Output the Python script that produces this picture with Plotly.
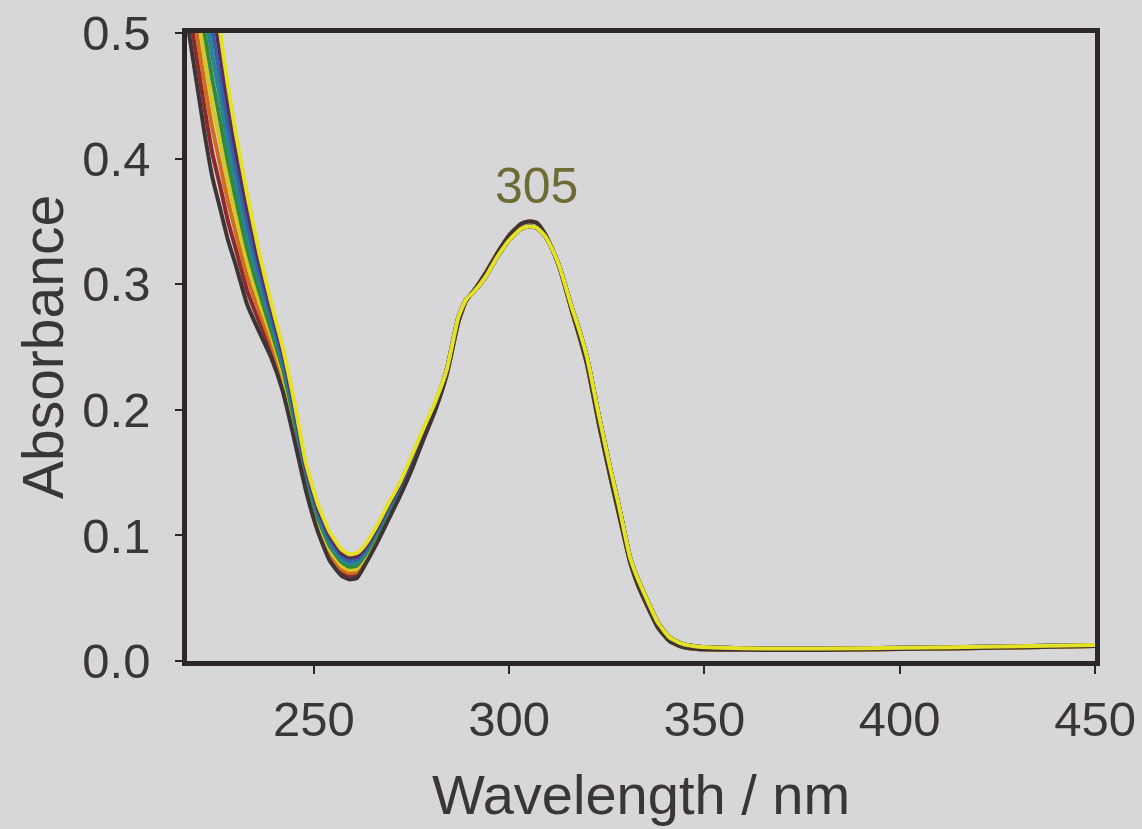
import plotly.graph_objects as go

# Short-wavelength region (curves differ here)
wl_short = [218, 220, 222, 224, 226, 228, 230, 233, 236, 239, 242, 245, 248,
            251, 254, 257, 259, 261, 263, 266, 269, 272, 275, 278, 281]

c1 = [.500, .460, .420, .385, .360, .335, .315, .283, .262, .242, .215, .176, .135,
      .103, .080, .068, .065, .066, .076, .093, .112, .131, .152, .176, .199]
c2 = [.520, .480, .440, .404, .378, .350, .328, .294, .270, .248, .219, .180, .138,
      .106, .083, .071, .0675, .0685, .078, .095, .1135, .132, .153, .177, .200]
c3 = [.540, .500, .460, .424, .395, .366, .341, .305, .278, .253, .224, .184, .141,
      .109, .086, .073, .070, .071, .080, .0965, .115, .134, .155, .178, .201]
c4 = [.560, .520, .480, .443, .413, .381, .354, .316, .286, .259, .228, .187, .143,
      .111, .089, .076, .0725, .0735, .082, .098, .117, .135, .156, .179, .202]
c5 = [.580, .540, .500, .463, .430, .397, .368, .327, .294, .264, .233, .191, .146,
      .114, .092, .079, .075, .076, .084, .100, .1185, .1365, .1575, .1805, .2025]
c6 = [.600, .560, .520, .482, .448, .412, .381, .337, .301, .270, .237, .195, .149,
      .117, .094, .081, .0775, .0785, .086, .102, .120, .138, .159, .182, .203]
c7 = [.620, .580, .540, .501, .465, .427, .394, .348, .309, .275, .241, .199, .152,
      .120, .097, .084, .080, .081, .088, .1035, .122, .139, .160, .183, .204]
c8 = [.640, .600, .560, .521, .483, .443, .407, .359, .317, .281, .246, .202, .154,
      .122, .100, .086, .0825, .0835, .090, .105, .1235, .1405, .1615, .184, .205]
c9 = [.660, .620, .580, .540, .500, .458, .420, .370, .325, .286, .250, .206, .157,
      .125, .103, .089, .085, .086, .092, .107, .125, .142, .163, .185, .206]

# Long-wavelength region (curves nearly coincide)
wl_tail = [284, 287, 289, 291, 294, 297, 300, 303, 305, 307, 309, 311, 313, 316,
           318, 320, 323, 326, 328, 331, 333, 335, 338, 341, 344, 348, 355, 365,
           380, 400, 425, 450]
tail_low = [.228, .270, .287, .295, .309, .325, .339, .348, .350, .349, .341, .328,
            .312, .279, .258, .235, .188, .145, .118, .078, .060, .046, .027, .016,
            .0115, .0095, .009, .0088, .0088, .0095, .0105, .012]
tail_high = [.232, .274, .288, .294, .306, .322, .335, .344, .346, .345, .339, .328,
             .313, .282, .263, .241, .195, .152, .125, .082, .065, .051, .031, .019,
             .014, .0115, .0105, .010, .010, .0105, .0115, .0128]

curve_values = [c1, c2, c3, c4, c5, c6, c7, c8, c9]
curve_colors = ["#3e3436", "#8a2a2c", "#d26a22", "#d6c628", "#2f8a3c",
                "#2a8494", "#3462a6", "#5b2a5a", "#e4e226"]
curve_tails = [tail_low, tail_low, tail_low, tail_low, tail_high, tail_high,
               tail_high, tail_high, tail_high]

x_ticks = [250, 300, 350, 400, 450]
y_ticks = [0.0, 0.1, 0.2, 0.3, 0.4, 0.5]
peak_label = "305"
peak_pos = (307, 0.378)

bg = "#d7d7d9"
axis_col = "#2e272a"
text_col = "#3a3638"
font_family = "Liberation Sans, Arial, sans-serif"

fig = go.Figure()
draw_order = [1, 2, 3, 4, 5, 6, 7, 0, 8]
for i in draw_order:
    fig.add_trace(go.Scatter(
        x=wl_short + wl_tail,
        y=curve_values[i] + curve_tails[i],
        mode="lines",
        line=dict(color=curve_colors[i], width=4, shape="spline", smoothing=0.5),
        showlegend=False,
        hoverinfo="skip",
    ))

fig.add_annotation(x=peak_pos[0], y=peak_pos[1], text=peak_label, showarrow=False,
                   font=dict(size=50, color="#6f6b34", family=font_family))

fig.update_layout(
    width=1142, height=829,
    margin=dict(l=187, r=47, t=33, b=168, autoexpand=False),
    paper_bgcolor=bg, plot_bgcolor=bg,
    font=dict(family=font_family, color=text_col),
    showlegend=False,
)
fig.update_xaxes(
    range=[217.5, 450], tickvals=x_ticks, ticks="outside", ticklen=8, tickwidth=1.5,
    tickcolor=axis_col, showline=True, linewidth=4.5, linecolor=axis_col, mirror=True,
    showgrid=False, zeroline=False, tickfont=dict(size=49, color=text_col),
    ticklabelstandoff=3, automargin=False,
    title=dict(text="Wavelength / nm", font=dict(size=56, color=text_col), standoff=32),
)
fig.update_yaxes(
    range=[0, 0.5], tickvals=y_ticks, tickformat=".1f", ticks="outside", ticklen=7,
    tickwidth=1.5, tickcolor=axis_col, showline=True, linewidth=4.5, linecolor=axis_col,
    mirror=True, showgrid=False, zeroline=False, tickfont=dict(size=49, color=text_col),
    ticklabelstandoff=15, automargin=False,
    title=dict(text="Absorbance", font=dict(size=57, color=text_col), standoff=2),
)

fig.write_html("out.html")
